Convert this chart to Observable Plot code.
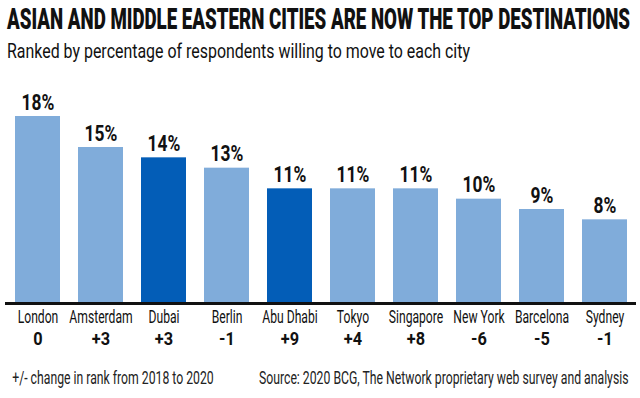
<!DOCTYPE html>
<html><head><meta charset="utf-8">
<script src="https://cdn.jsdelivr.net/npm/d3@7"></script>
<script src="https://cdn.jsdelivr.net/npm/@observablehq/plot@0.6"></script>
<style>
body{margin:0;background:#fff;width:640px;height:398px;overflow:hidden;font-family:Roboto,sans-serif;color:#111;}
#head{position:relative;height:70px;}
#title{position:absolute;left:7px;top:5px;font-weight:900;font-size:29px;line-height:1;white-space:nowrap;transform-origin:0 0;}
#subtitle{position:absolute;left:7px;top:40.5px;font-weight:400;font-size:20px;line-height:1;white-space:nowrap;transform-origin:0 0;}
#chart svg{display:block;}
</style>
</head><body>
<div id="head"><span id="title"></span><span id="subtitle"></span></div>
<div id="chart"></div>
<script>
const titleText = "ASIAN AND MIDDLE EASTERN CITIES ARE NOW THE TOP DESTINATIONS";
const subtitleText = "Ranked by percentage of respondents willing to move to each city";
const cities = ["London","Amsterdam","Dubai","Berlin","Abu Dhabi","Tokyo","Singapore","New York","Barcelona","Sydney"];
const shares = [18,15,14,13,11,11,11,10,9,8];
const rankChanges = ["0","+3","+3","-1","+9","+4","+8","-6","-5","-1"];
const highlighted = ["Dubai","Abu Dhabi"];
const footnote = "+/- change in rank from 2018 to 2020";
const source = "Source: 2020 BCG, The Network proprietary web survey and analysis";

const data = cities.map((city, i) => ({city, share: shares[i], change: rankChanges[i], hi: highlighted.includes(city)}));

function fit(el, text, target) {
  el.textContent = text;
  const w = el.getBoundingClientRect().width;
  el.style.transform = `scaleX(${target / w})`;
}
fit(document.getElementById("title"), titleText, 623);
fit(document.getElementById("subtitle"), subtitleText, 463);

const svg = Plot.plot({
  width: 640, height: 328,
  marginTop: 46, marginBottom: 96, marginLeft: 3, marginRight: 0,
  style: {fontFamily: "Roboto, sans-serif", color: "#111", background: "#fff"},
  x: {domain: cities, paddingInner: 0.285, paddingOuter: 0.1425, axis: null},
  y: {domain: [0, 18], axis: null},
  marks: [
    Plot.barY(data, {x: "city", y: "share", fill: d => d.hi ? "#035db7" : "#80acda"}),
    Plot.ruleY([0], {stroke: "#111", strokeWidth: 3, dy: 1, insetLeft: 2, insetRight: 4}),
    Plot.text(data, {x: "city", y: "share", text: d => d.share + "%", dy: -14, fontSize: 22, fontWeight: 700, fill: "#111"}),
    Plot.text(data, {x: "city", frameAnchor: "bottom", text: "city", dy: 20.5, fontSize: 18, fill: "#111"}),
    Plot.text(data, {x: "city", frameAnchor: "bottom", text: "change", dy: 42.5, fontSize: 19, fontWeight: 700, fill: "#111"}),
    Plot.text([footnote], {frameAnchor: "bottom-left", text: d => d, dx: 8.7, dy: 81, textAnchor: "start", fontSize: 18, fill: "#222"}),
    Plot.text([source], {frameAnchor: "bottom-right", text: d => d, dx: -12, dy: 81, textAnchor: "end", fontSize: 18, fill: "#222"})
  ]
});
document.getElementById("chart").appendChild(svg);

const squeeze = [0.79, 0.675, 0.86, 0.68, 0.68];
svg.querySelectorAll('g[aria-label="text"]').forEach((g, k) => {
  g.querySelectorAll("text").forEach(t => {
    const tr = t.getAttribute("transform") || "";
    t.setAttribute("transform", tr + ` scale(${squeeze[k]},1)`);
  });
});
</script>
</body></html>
